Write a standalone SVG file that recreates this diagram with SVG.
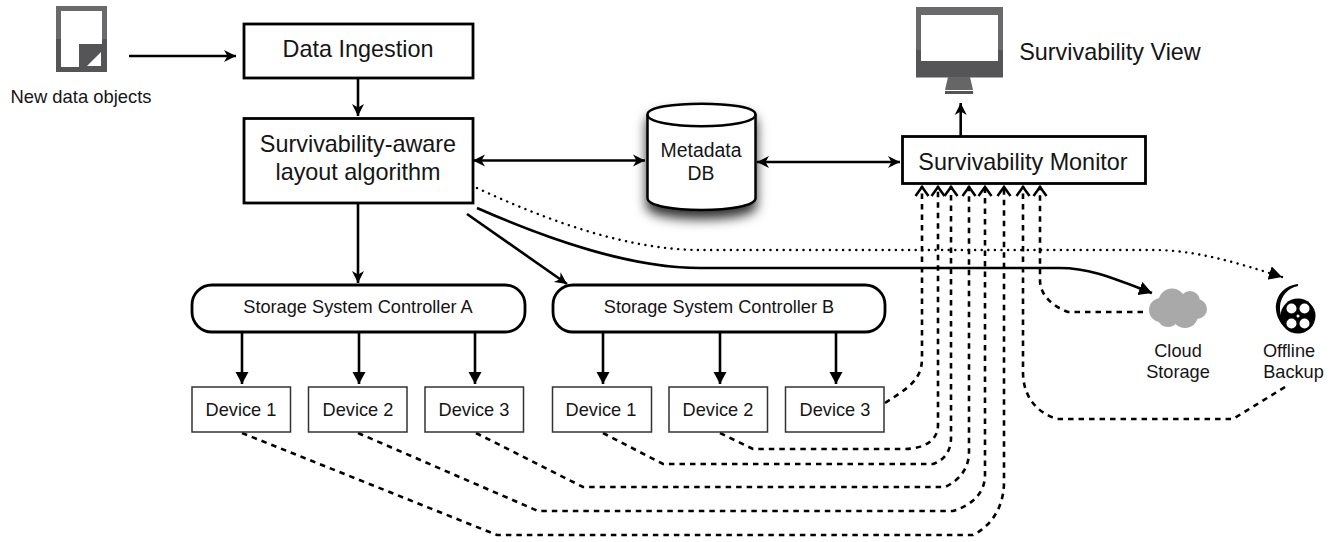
<svg xmlns="http://www.w3.org/2000/svg" width="1333" height="542" viewBox="0 0 1333 542">
<style>
text{font-family:"Liberation Sans",Arial,sans-serif;fill:#151515;text-anchor:middle}
.big{font-size:23.4px}.mid{font-size:18.200px}.cyl{font-size:19.400px}
.thick{fill:#fff;stroke:#000;stroke-width:2.800}
.thin{fill:#fff;stroke:#333;stroke-width:1.500}
.c{fill:none;stroke:#000;stroke-width:2.600}
.d{fill:none;stroke:#000;stroke-width:2.600;stroke-dasharray:5.500 5}
.o{fill:none;stroke:#000;stroke-width:2.400;stroke-dasharray:.1 6.500;stroke-linecap:round}
</style>
<defs>
<marker id="a" markerUnits="userSpaceOnUse" markerWidth="14" markerHeight="14" refX="12" refY="6.500" orient="auto-start-reverse"><path d="M0 .5L12 6.500L0 12.500L3.500 6.500Z" fill="#000"/></marker>
<marker id="t" markerUnits="userSpaceOnUse" markerWidth="14" markerHeight="14" refX="12" refY="6.500" orient="auto"><path d="M0 0L12 6.500L0 13Z" fill="#000"/></marker>
<marker id="T" markerUnits="userSpaceOnUse" markerWidth="16" markerHeight="16" refX="13" refY="7" orient="auto"><path d="M0 0L13 7L0 14Z" fill="#000"/></marker>
<marker id="v" markerUnits="userSpaceOnUse" markerWidth="16" markerHeight="16" refX="12" refY="8" orient="auto"><path d="M2 1.500L11 8L2 14.500" fill="none" stroke="#000" stroke-width="2.500"/></marker>
<filter id="sh" x="-30%" y="-30%" width="160%" height="170%"><feDropShadow dx="0" dy="8" stdDeviation="6" flood-color="#000" flood-opacity=".8"/></filter>
<linearGradient id="g" gradientUnits="userSpaceOnUse" x1="0" y1="7" x2="0" y2="78"><stop offset=".6" stop-color="#6a6a6c"/><stop offset=".6" stop-color="#555557"/></linearGradient>
<linearGradient id="g2" gradientUnits="userSpaceOnUse" x1="0" y1="6" x2="0" y2="72"><stop offset=".5" stop-color="#6a6a6c"/><stop offset=".5" stop-color="#555557"/></linearGradient>
</defs>
<g id="connectors">
<path class="c" marker-end="url(#a)" d="M129 56H236"/>
<path class="c" marker-end="url(#a)" d="M358 79V116"/>
<path class="c" marker-start="url(#a)" marker-end="url(#a)" d="M473 160.500H645"/>
<path class="c" marker-start="url(#a)" marker-end="url(#a)" d="M757 162H900"/>
<path class="c" marker-end="url(#a)" d="M960.700 136V103"/>
<path class="c" marker-end="url(#a)" d="M358 204V283"/>
<path class="c" marker-end="url(#a)" d="M467 214L567 284"/>
<path class="c" marker-end="url(#T)" d="M477 208C550 240 630 268 700 268H1060C1090 268 1115 279 1152 293"/>
<path class="o" marker-end="url(#T)" d="M477 188C550 222 630 250 700 250H1153C1195 250 1235 262 1282 277"/>
<path class="c" marker-end="url(#t)" d="M242 332V384"/>
<path class="c" marker-end="url(#t)" d="M359 332V384"/>
<path class="c" marker-end="url(#t)" d="M475 332V384"/>
<path class="c" marker-end="url(#t)" d="M603 332V384"/>
<path class="c" marker-end="url(#t)" d="M720 332V384"/>
<path class="c" marker-end="url(#t)" d="M836 332V384"/>
<path class="d" marker-end="url(#v)" d="M885 403C908 388 922 380 922 358V186"/>
<path class="d" marker-end="url(#v)" d="M720 433L753 449H903C925 449 938 440 938 425V186"/>
<path class="d" marker-end="url(#v)" d="M603 433L663 464H933C945 460 951 450 951 438V186"/>
<path class="d" marker-end="url(#v)" d="M476 433L583 487H945C960 480 969 468 969 452V186"/>
<path class="d" marker-end="url(#v)" d="M358 433L538 511H953C973 505 985 492 985 475V186"/>
<path class="d" marker-end="url(#v)" d="M242 433L497 535H973C993 525 1004 505 1004 482V186"/>
<path class="d" marker-end="url(#v)" d="M1285 387L1233 419H1057C1035 412 1023 395 1023 372V186"/>
<path class="d" marker-end="url(#v)" d="M1143 312H1068C1052 306 1040 295 1040 280V186"/>
</g>
<g id="new-data"><rect x="58.500" y="8.500" width="46" height="61" fill="#fff" stroke="url(#g2)" stroke-width="5"/><path d="M79 44H102V67H79Z" fill="#555557"/><path d="M87 66H101V52Z" fill="#fff"/>
<text x="81" y="103" style="font-size:18.400px">New data objects</text></g>
<g id="data-ingestion"><rect class="thick" x="244" y="24" width="229" height="54"/><text class="big" x="358" y="57">Data Ingestion</text></g>
<g id="layout"><rect class="thick" x="244" y="118.500" width="229" height="84.500"/><text class="big" x="358" y="152">Survivability-aware</text><text class="big" x="358" y="180">layout algorithm</text></g>
<g id="metadata"><path filter="url(#sh)" d="M647.500 114.500C647.500 100 755.500 100 755.500 114.500V198C755.500 214 647.500 214 647.500 198Z" fill="#fff" stroke="#000" stroke-width="2.500"/><path d="M647.500 114.500C647.500 130 755.500 130 755.500 114.500" fill="none" stroke="#000" stroke-width="2.500"/><text class="cyl" x="701" y="157">Metadata</text><text class="cyl" x="701" y="180">DB</text></g>
<g id="monitor"><rect class="thick" x="902.500" y="136.500" width="243" height="47"/><text class="big" x="1023" y="170">Survivability Monitor</text></g>
<g id="view"><rect x="916" y="7" width="87" height="70.500" fill="url(#g)"/><rect x="921" y="15" width="77" height="46" fill="#fff"/><path d="M948 77H970L973 90H945Z" fill="#666"/><rect x="945" y="91" width="28" height="3" fill="#555"/><text class="big" x="1110" y="60">Survivability View</text></g>
<g id="ctrl-a"><rect class="thick" x="192" y="285" width="333" height="47" rx="20"/><text class="mid" x="358" y="313">Storage System Controller A</text></g>
<g id="ctrl-b"><rect class="thick" x="553" y="285" width="332" height="47" rx="20"/><text class="mid" x="719" y="313">Storage System Controller B</text></g>
<g id="a1"><rect class="thin" x="192" y="387" width="98.500" height="45"/><text class="mid" x="241" y="416">Device 1</text></g>
<g id="a2"><rect class="thin" x="308.500" y="387" width="98.500" height="45"/><text class="mid" x="358" y="416">Device 2</text></g>
<g id="a3"><rect class="thin" x="425" y="387" width="98.500" height="45"/><text class="mid" x="474" y="416">Device 3</text></g>
<g id="b1"><rect class="thin" x="552.500" y="387" width="99" height="45"/><text class="mid" x="601" y="416">Device 1</text></g>
<g id="b2"><rect class="thin" x="669" y="387" width="98.500" height="45"/><text class="mid" x="718" y="416">Device 2</text></g>
<g id="b3"><rect class="thin" x="785.500" y="387" width="98.500" height="45"/><text class="mid" x="835" y="416">Device 3</text></g>
<g id="cloud"><g fill="#a9a9a9"><circle cx="1161" cy="310" r="12"/><circle cx="1172" cy="302" r="13.500"/><circle cx="1190" cy="301" r="10"/><circle cx="1197" cy="309" r="10"/><circle cx="1168" cy="316" r="11"/><circle cx="1185" cy="315" r="13"/></g><text class="mid" x="1178" y="357">Cloud</text><text class="mid" x="1178" y="378">Storage</text></g>
<g id="backup"><circle cx="1298" cy="316" r="17.500" fill="#000"/><circle cx="1291.500" cy="308.500" r="5" fill="#fff"/><circle cx="1304.500" cy="308.500" r="5" fill="#fff"/><circle cx="1291.500" cy="323.500" r="5" fill="#fff"/><circle cx="1304.500" cy="323.500" r="5" fill="#fff"/><circle cx="1298" cy="316" r="1.500" fill="#fff"/><path d="M1298 284C1282 286 1275 298 1276 310C1277 320 1284 329 1292 333C1285 326 1279 316 1280 306C1281 296 1288 288 1298 286Z" fill="#000"/><text class="mid" x="1289" y="357">Offline</text><text class="mid" x="1293.500" y="378">Backup</text></g>
</svg>
